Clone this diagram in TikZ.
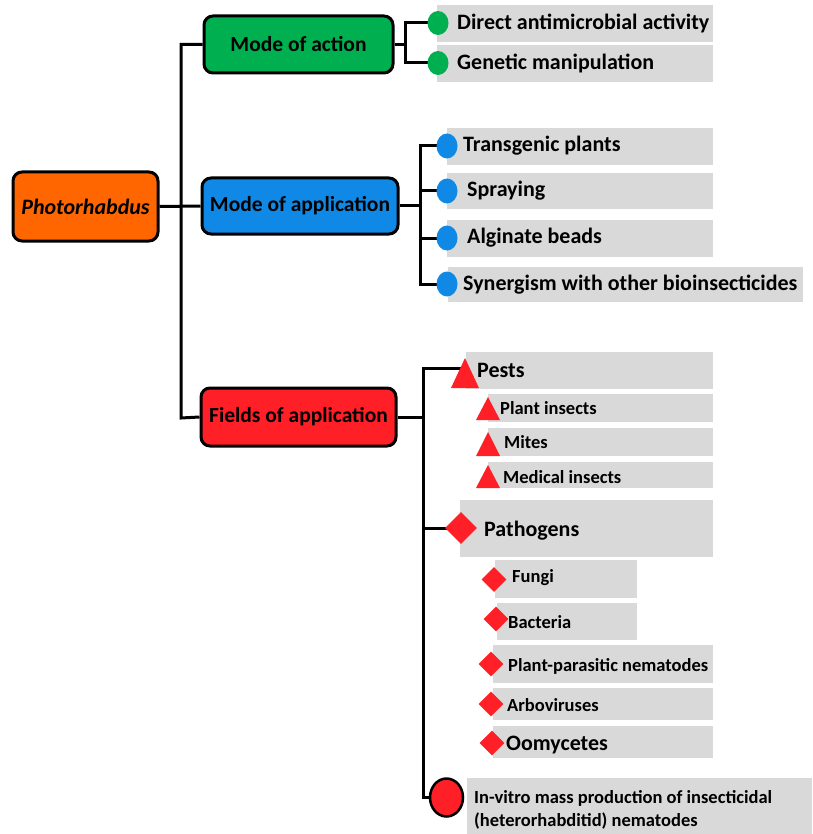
\documentclass[tikz,border=0pt]{standalone}
\usepackage{fontspec}
\setmainfont{Carlito}
\usetikzlibrary{shapes.geometric}
\definecolor{cgreen}{HTML}{00B050}
\definecolor{cblue}{HTML}{1089E6}
\definecolor{corange}{HTML}{FF6600}
\definecolor{cred}{HTML}{FF1F26}
\definecolor{cgray}{HTML}{D9D9D9}
\tikzset{
  mainbox/.style={draw=black, line width=3pt, rounded corners=9pt, inner sep=0pt, font=\fontsize{21.5}{24}\selectfont\bfseries},
  gbox/.style={fill=cgray, draw=none, inner sep=0pt, anchor=north west},
  lbl/.style={anchor=west, inner sep=0pt, font=\fontsize{22}{24}\selectfont\bfseries},
  slbl/.style={anchor=west, inner sep=0pt, font=\fontsize{18.5}{21}\selectfont\bfseries},
  conn/.style={draw=black, line width=3pt},
  dotg/.style={ellipse, fill=cgreen, minimum width=21pt, minimum height=24pt, inner sep=0pt},
  dotb/.style={ellipse, fill=cblue, minimum width=21pt, minimum height=25pt, inner sep=0pt},
  dia/.style={diamond, fill=cred, inner sep=0pt, aspect=1},
}
\newcommand{\gb}[5]{\node[gbox, minimum width={#4-#2}, minimum height={#5-#3}] (#1) at (#2,#3) {};}
\newcommand{\trimark}[5]{\coordinate (#1) at (#2,#3);
  \fill[cred] (#1) ++({-#4/2},{#5/2}) -- ++({#4/2},{-#5}) -- ++({#4/2},{#5}) -- cycle;}
\begin{document}
\begin{tikzpicture}[x=1pt,y=-1pt]
\useasboundingbox (0,0) rectangle (812,834);
% gray label boxes
\gb{g1}{437}{5}{713}{42}
\gb{g2}{437}{45}{713}{82}
\gb{g3}{447}{128}{713}{165}
\gb{g4}{447}{173}{713}{209}
\gb{g5}{447}{220}{713}{257}
\gb{g6}{448}{267}{803}{302}
\gb{g7}{466}{352}{713}{389}
\gb{g8}{488}{394}{713}{422}
\gb{g9}{488}{428}{713}{456}
\gb{g10}{488}{462}{713}{488}
\gb{g11}{460}{500}{713}{557}
\gb{g12}{495}{560}{637}{598}
\gb{g13}{497}{603}{637}{640}
\gb{g14}{493}{645}{713}{683}
\gb{g15}{493}{688}{713}{720}
\gb{g16}{493}{726}{713}{758}
\gb{g17}{467}{778}{812}{834}

% main boxes
\node[mainbox, fill=corange, minimum width=145pt, minimum height=69pt] (photo) at (85.5,206.5) {\fontsize{22}{24}\selectfont\itshape Photorhabdus};
\node[mainbox, fill=cgreen, minimum width=189pt, minimum height=57pt] (moa) at (298.5,44.5) {Mode of action};
\node[mainbox, fill=cblue, minimum width=196pt, minimum height=56pt] (moap) at (300,206) {Mode of application};
\node[mainbox, fill=cred, minimum width=195pt, minimum height=58pt] (foa) at (298.5,417) {Fields of application};

% junction coordinates
\coordinate (tr1) at (181,44.5);
\coordinate (tr3) at (181,418);
\coordinate (ja) at (405,44.5);
\coordinate (jb) at (420,206);
\coordinate (jc) at (423,417);

% marker positions
\coordinate (m1) at (438,23);
\coordinate (m2) at (438,63);
\coordinate (m3) at (447,146);
\coordinate (m4) at (447,191);
\coordinate (m5) at (447,238);
\coordinate (m6) at (447,284);
\coordinate (d1) at (461,528);
\coordinate (c1) at (446.5,797.5);
\coordinate (pt) at (462,368);

% connectors
\draw[conn] (photo.east) -- (moap.west);
\draw[conn] (moa.west) -- (tr1) -- (tr3) -- (foa.west);
\draw[conn] (moa.east) -- (ja);
\draw[conn] (m1) -| (ja) |- (m2);
\draw[conn] (moap.east) -- (jb);
\draw[conn] (m3) -| (jb) |- (m6);
\draw[conn] (jb |- m4) -- (m4);
\draw[conn] (jb |- m5) -- (m5);
\draw[conn] (foa.east) -- (jc);
\draw[conn] (pt) -| (jc) |- (c1);
\draw[conn] (jc |- d1) -- (d1);

% markers
\node[dotg] (n1) at (m1) {};
\node[dotg] (n2) at (m2) {};
\node[dotb] (n3) at (m3) {};
\node[dotb] (n4) at (m4) {};
\node[dotb] (n5) at (m5) {};
\node[dotb] (n6) at (m6) {};
\trimark{t1}{465}{373}{28}{30}
\trimark{t2}{488}{408.5}{24}{23}
\trimark{t3}{488}{444}{24}{24}
\trimark{t4}{488}{476.5}{24}{23}
\node[dia, minimum width=32pt, minimum height=32pt] (n7) at (d1) {};
\node[dia, minimum width=25pt, minimum height=25pt] (n8) at (494,579.5) {};
\node[dia, minimum width=25pt, minimum height=25pt] (n9) at (496,619) {};
\node[dia, minimum width=25pt, minimum height=25pt] (n10) at (491,664) {};
\node[dia, minimum width=25pt, minimum height=25pt] (n11) at (491,704) {};
\node[dia, minimum width=25pt, minimum height=25pt] (n12) at (492,743) {};
\node[ellipse, fill=cred, draw=black, line width=2.5pt, minimum width=33pt, minimum height=38pt, inner sep=0pt] (n13) at (c1) {};

% labels
\node[lbl] (l1) at (457,23) {Direct antimicrobial activity};
\node[lbl] (l2) at (457,63) {Genetic manipulation};
\node[lbl] (l3) at (463,146) {Transgenic plants};
\node[lbl] (l4) at (467,191) {Spraying};
\node[lbl] (l5) at (467,238) {Alginate beads};
\node[lbl] (l6) at (463,285) {Synergism with other bioinsecticides};
\node[lbl] (l7) at (477,370) {Pests};
\node[slbl] (l8) at (500,408) {Plant insects};
\node[slbl] (l9) at (504,442) {Mites};
\node[slbl] (l10) at (503,477) {Medical insects};
\node[lbl] (l11) at (484,531) {Pathogens};
\node[slbl] (l12) at (512,578) {Fungi};
\node[slbl] (l13) at (508,622) {Bacteria};
\node[slbl] (l14) at (508,666) {Plant-parasitic nematodes};
\node[slbl] (l15) at (507,705) {Arboviruses};
\node[lbl] (l16) at (506,745) {Oomycetes};
\node[slbl, align=left, font=\fontsize{18.5}{23.5}\selectfont\bfseries] (l17) at (474,810) {In-vitro mass production of insecticidal\\(heterorhabditid) nematodes};
\end{tikzpicture}
\end{document}
